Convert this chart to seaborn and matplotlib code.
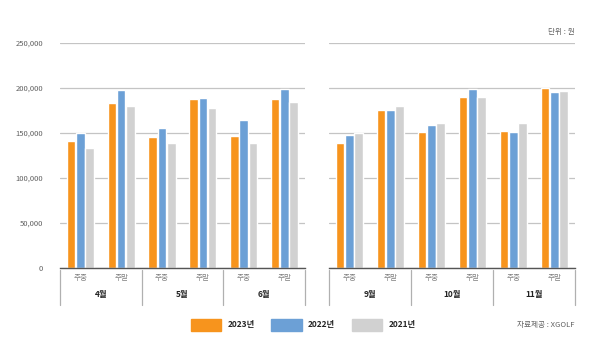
import pandas as pd
import numpy as np
import matplotlib
matplotlib.use('Agg')
import matplotlib.pyplot as plt
import matplotlib.transforms as mtransforms
import seaborn as sns

# Datos (precio en won)
anios = ['2023년', '2022년', '2021년']
meses_izq = ['4월', '5월', '6월']
meses_der = ['9월', '10월', '11월']
dias = ['주중', '주말']

# orden: (mes, dia) -> [4월 주중, 4월 주말, 5월 주중, ...]
v2023_izq = [141000, 183300, 145200, 187400, 147000, 187400]
v2022_izq = [150000, 197800, 155900, 188900, 164400, 199300]
v2021_izq = [133700, 180400, 139300, 178100, 138500, 184400]

v2023_der = [138500, 175600, 151100, 189600, 151800, 199500]
v2022_der = [147800, 175600, 158900, 198900, 150700, 195600]
v2021_der = [149600, 179600, 160700, 189600, 161400, 196700]

colores = ['#F7941D', '#6CA0D6', '#D1D1D1']


def armar_df(meses, v23, v22, v21):
    filas = []
    cats = [f'{m}_{d}' for m in meses for d in dias]
    for anio, vals in zip(anios, [v23, v22, v21]):
        for c, v in zip(cats, vals):
            filas.append({'cat': c, 'anio': anio, 'valor': v})
    return pd.DataFrame(filas), cats


sns.set_style('white')
plt.rcParams['font.family'] = ['Noto Sans CJK KR', 'DejaVu Sans']

fig = plt.figure(figsize=(6, 3.58), dpi=100)
ax_izq = fig.add_axes([0.1, 0.2514, 0.408, 0.6285])
ax_der = fig.add_axes([0.548, 0.2514, 0.41, 0.6285])

for ax, meses, vals in [(ax_izq, meses_izq, (v2023_izq, v2022_izq, v2021_izq)),
                        (ax_der, meses_der, (v2023_der, v2022_der, v2021_der))]:
    df, cats = armar_df(meses, *vals)
    sns.barplot(data=df, x='cat', y='valor', hue='anio', order=cats,
                hue_order=anios, palette=colores, width=0.68, gap=0.08,
                saturation=1, ax=ax)
    ax.set_ylim(0, 250000)
    ax.set_xlim(-0.5, len(cats) - 0.5)
    ax.set_yticks(np.arange(0, 250001, 50000))
    ax.yaxis.grid(True, color='#C4C4C4', linewidth=0.9)
    ax.set_axisbelow(True)
    for s in ['top', 'right', 'left']:
        ax.spines[s].set_visible(False)
    ax.spines['bottom'].set_color('#555555')
    ax.spines['bottom'].set_linewidth(1)
    ax.set_xlabel('')
    ax.set_ylabel('')
    ax.set_xticks(range(len(cats)))
    ax.set_xticklabels([d for m in meses for d in dias], fontsize=5.5, color='#808080')
    ax.tick_params(axis='x', length=0, pad=4)
    ax.tick_params(axis='y', length=0, labelsize=5.5, labelcolor='#606060', pad=12)
    ax.get_legend().remove()

    trans = mtransforms.blended_transform_factory(ax.transData, ax.transAxes)
    for i, m in enumerate(meses):
        ax.text(2 * i + 0.5, -0.12, m, transform=trans, ha='center', va='center',
                fontsize=6, fontweight='bold', color='#222222')
    for xs in [-0.5, 1.5, 3.5, 5.5]:
        ax.plot([xs, xs], [-0.01, -0.165], transform=trans, color='#B0B0B0',
                linewidth=0.9, clip_on=False)

ax_izq.yaxis.set_major_formatter(matplotlib.ticker.FuncFormatter(lambda v, p: f'{int(v):,}'))
ax_der.set_yticklabels([])

handles = [plt.Rectangle((0, 0), 1, 1, color=c) for c in colores]
fig.legend(handles, anios, loc='center', bbox_to_anchor=(0.505, 0.093), ncol=3,
           frameon=False, handlelength=3.7, handleheight=1.9,
           handletextpad=0.7, columnspacing=2.0, prop={'weight': 'bold', 'size': 6})

fig.text(0.958, 0.91, '단위 : 원', ha='right', va='center', fontsize=5.5, color='#606060')
fig.text(0.958, 0.093, '자료제공 : XGOLF', ha='right', va='center', fontsize=5.5, color='#606060')

fig.savefig('out.png', dpi=100)
